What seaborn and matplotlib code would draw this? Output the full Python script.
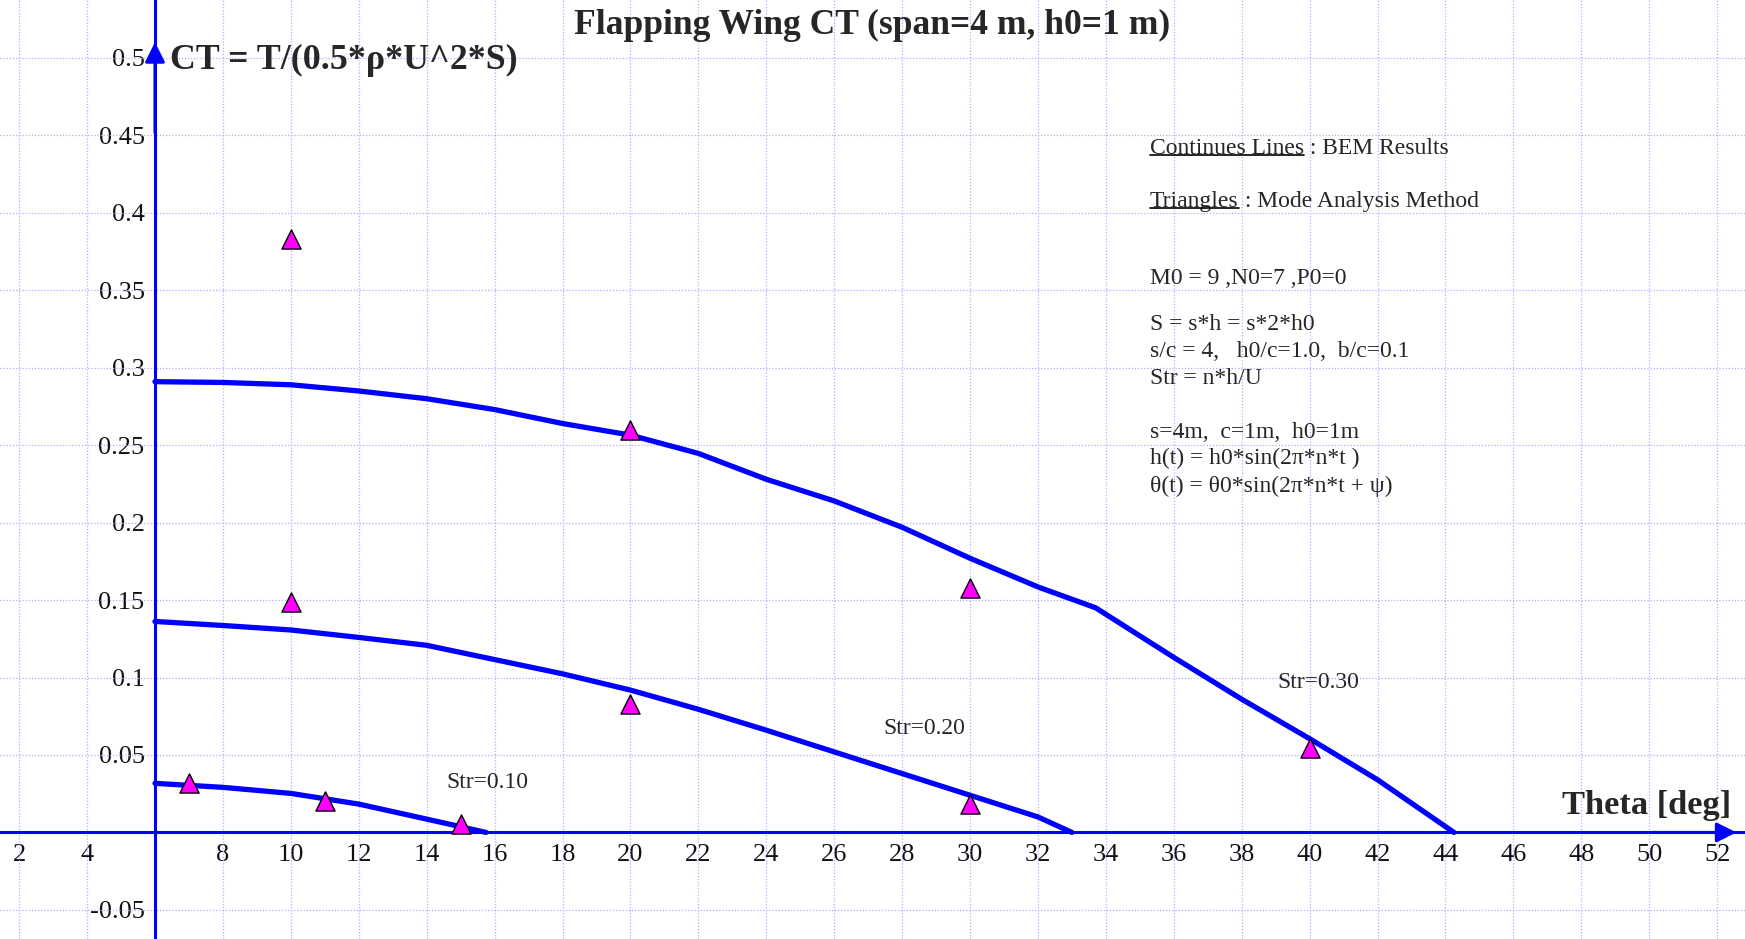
import matplotlib
matplotlib.use("Agg")
import matplotlib.pyplot as plt
import seaborn as sns
import pandas as pd

# BEM results (continuous lines), one per Strouhal number
theta_str10 = [6, 8, 10, 12, 14, 15.75]
ct_str10 = [0.0317, 0.0291, 0.0252, 0.0183, 0.0086, 0.0]

theta_str20 = [6, 8, 10, 12, 14, 16, 18, 20, 22, 24, 26, 28, 30, 32, 33.0]
ct_str20 = [0.1362, 0.1336, 0.1307, 0.1259, 0.1208, 0.1116, 0.1024, 0.0919,
            0.0795, 0.066, 0.052, 0.038, 0.024, 0.010, 0.0]

theta_str30 = [6, 8, 10, 12, 14, 16, 18, 20, 22, 24, 26, 28, 30, 32, 33.7,
               36, 38, 40, 42, 44.25]
ct_str30 = [0.291, 0.2905, 0.289, 0.285, 0.280, 0.273, 0.264, 0.2565, 0.2447,
            0.228, 0.214, 0.197, 0.177, 0.1585, 0.145, 0.113, 0.086, 0.0605,
            0.034, 0.0]

# Mode analysis method (triangles)
mam_theta_10 = [7, 11, 15]
mam_ct_10 = [0.032, 0.020, 0.0055]
mam_theta_20 = [10, 20, 30]
mam_ct_20 = [0.149, 0.083, 0.0183]
mam_theta_30 = [10, 20, 30, 40]
mam_ct_30 = [0.383, 0.260, 0.158, 0.0548]

str_labels = ["Str=0.10", "Str=0.20", "Str=0.30"]

x_ticks = [2, 4] + list(range(8, 53, 2))
y_ticks = [-0.05, 0.05, 0.1, 0.15, 0.2, 0.25, 0.3, 0.35, 0.4, 0.45, 0.5]
y_tick_labels = ["-0.05", "0.05", "0.1", "0.15", "0.2", "0.25", "0.3",
                 "0.35", "0.4", "0.45", "0.5"]

notes = [
    ("Continues Lines", " : BEM Results", 0.4418),
    ("Triangles", " : Mode Analysis Method", 0.4073),
    ("", "M0 = 9 ,N0=7 ,P0=0", 0.3578),
    ("", "S = s*h = s*2*h0", 0.3276),
    ("", "s/c = 4,   h0/c=1.0,  b/c=0.1", 0.3103),
    ("", "Str = n*h/U", 0.2931),
    ("", "s=4m,  c=1m,  h0=1m", 0.2579),
    ("", "h(t) = h0*sin(2\u03c0*n*t )", 0.2414),
    ("", "\u03b8(t) = \u03b80*sin(2\u03c0*n*t + \u03c8)", 0.2234),
]

bem = pd.concat([
    pd.DataFrame({"theta": theta_str10, "ct": ct_str10, "str": str_labels[0]}),
    pd.DataFrame({"theta": theta_str20, "ct": ct_str20, "str": str_labels[1]}),
    pd.DataFrame({"theta": theta_str30, "ct": ct_str30, "str": str_labels[2]}),
])
mam = pd.concat([
    pd.DataFrame({"theta": mam_theta_10, "ct": mam_ct_10}),
    pd.DataFrame({"theta": mam_theta_20, "ct": mam_ct_20}),
    pd.DataFrame({"theta": mam_theta_30, "ct": mam_ct_30}),
])

sns.set_style("white")
plt.rcParams["font.family"] = ["Liberation Serif", "DejaVu Serif"]

fig = plt.figure(figsize=(17.45, 9.39), dpi=100)
ax = fig.add_axes([0, 0, 1, 1])
ax.set_xlim(1.436, 52.82)
ax.set_ylim(-0.0688, 0.5374)

sns.lineplot(data=bem, x="theta", y="ct", hue="str", units="str",
             estimator=None, sort=False, palette=["#0000ff"] * 3,
             linewidth=3.8, legend=False, ax=ax, zorder=4)
sns.scatterplot(data=mam, x="theta", y="ct", marker="^", s=190,
                color="#ff00ff", edgecolor="black", linewidth=1.0,
                ax=ax, zorder=5)

# axes through the origin (6, 0)
for side in ["top", "right"]:
    ax.spines[side].set_visible(False)
ax.spines["left"].set_position(("data", 6))
ax.spines["bottom"].set_position(("data", 0))
for side in ["left", "bottom"]:
    ax.spines[side].set_color("#0000ff")
    ax.spines[side].set_linewidth(2.2)
    ax.spines[side].set_zorder(3)

ax.set_xticks(x_ticks)
ax.set_xticklabels([str(t) for t in x_ticks])
ax.set_yticks(y_ticks)
ax.set_yticklabels(y_tick_labels)
ax.tick_params(axis="both", direction="inout", length=13, width=2,
               color="#0000ff", labelsize=19, labelcolor="#111111")
ax.tick_params(axis="x", pad=2)
ax.tick_params(axis="y", pad=1)
ax.set_xlabel("")
ax.set_ylabel("")

# dotted grid every 2 deg and every 0.05
for gx in range(2, 53, 2):
    ax.axvline(gx, color="#aeaeff", linestyle=(0, (1, 1.5)), linewidth=0.9,
               zorder=1)
for gy in [-0.05, 0.05, 0.1, 0.15, 0.2, 0.25, 0.3, 0.35, 0.4, 0.45, 0.5]:
    ax.axhline(gy, color="#aeaeff", linestyle=(0, (1, 1.5)), linewidth=0.9,
               zorder=1)

# arrow heads on the axes
ax.annotate("", xy=(6, 0.512), xytext=(6, 0.45),
            arrowprops=dict(arrowstyle="-|>", color="#0000ff", lw=2.2,
                            mutation_scale=30), zorder=6)
ax.annotate("", xy=(52.65, 0), xytext=(50, 0),
            arrowprops=dict(arrowstyle="-|>", color="#0000ff", lw=2.2,
                            mutation_scale=30), zorder=6)

# titles and axis names
fig.text(0.5, 0.973, "Flapping Wing CT (span=4 m, h0=1 m)", ha="center",
         va="center", fontsize=25.6, fontweight="bold")
ax.text(6.44, 0.4985, "CT = T/(0.5*\u03c1*U^2*S)", ha="left", va="center",
        fontsize=25.8, fontweight="bold")
ax.text(52.4, 0.0171, "Theta [deg]", ha="right", va="center",
        fontsize=24.8, fontweight="bold")

# curve labels
ax.text(15.8, 0.032, str_labels[0], ha="center", va="center", fontsize=17)
ax.text(28.66, 0.0668, str_labels[1], ha="center", va="center", fontsize=17)
ax.text(40.26, 0.097, str_labels[2], ha="center", va="center", fontsize=17)

# notes block, with underlined headings
fig.canvas.draw()
for head, rest, y in notes:
    if head:
        t = ax.text(35.3, y, head, ha="left", va="center", fontsize=17)
        ax.annotate(rest, xy=(1, 0), xycoords=t, ha="left", va="bottom",
                    fontsize=17)
        fig.canvas.draw()
        bb = t.get_window_extent()
        inv = fig.transFigure.inverted()
        (x0, y0), (x1, _) = inv.transform([(bb.x0, bb.y0 + 4), (bb.x1, bb.y0 + 4)])
        fig.add_artist(plt.Line2D([x0, x1], [y0, y0], color="black",
                                  linewidth=1.2))
    else:
        ax.text(35.3, y, rest, ha="left", va="center", fontsize=17)

fig.savefig("out.png", dpi=100)
